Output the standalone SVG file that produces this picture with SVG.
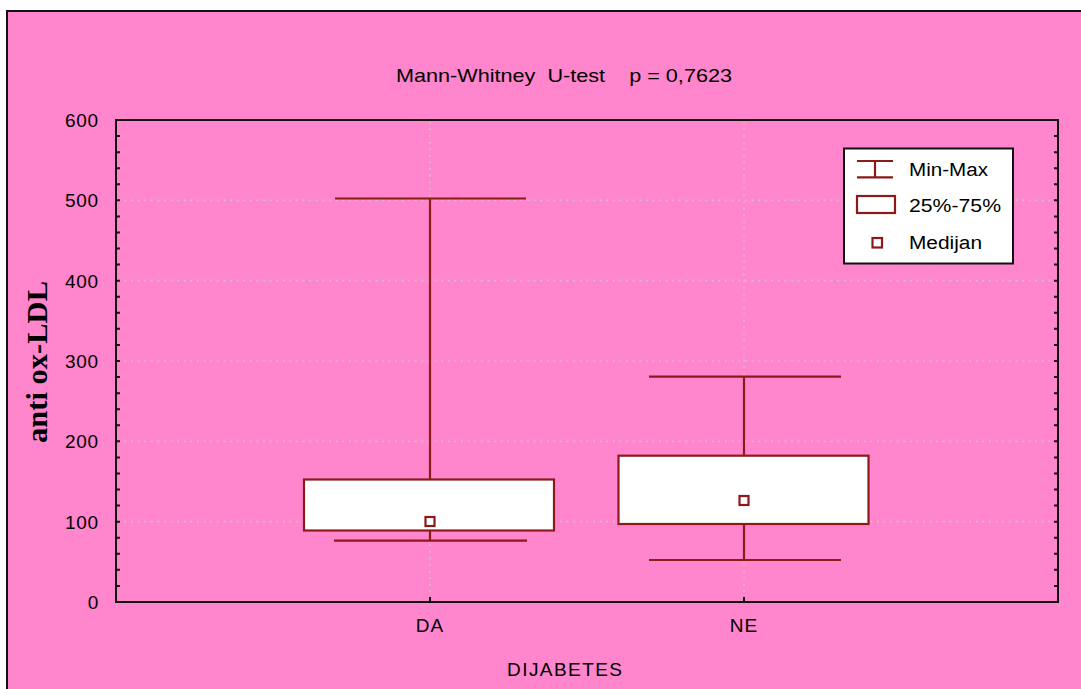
<svg xmlns="http://www.w3.org/2000/svg" width="1081" height="689" viewBox="0 0 1081 689">
<style>
  .t{font-family:"Liberation Sans",Arial,sans-serif;fill:#000;}
  .tick{font-size:19px;text-anchor:end;letter-spacing:0.8px;}
  .grid{stroke:#c8c8c8;stroke-width:1.6;stroke-dasharray:1.6 5;fill:none;}
  .axis{stroke:#111;stroke-width:2;fill:none;}
  .bx{stroke:#8c1a1a;stroke-width:2.2;fill:#fff;}
  .wh{stroke:#8c1a1a;stroke-width:2.2;fill:none;}
</style>
<rect x="0" y="0" width="1081" height="689" fill="#fff"/>
<rect x="7" y="11" width="1080" height="690" fill="#ff85cc" stroke="#111" stroke-width="2"/>

<g id="title">
  <text class="t" x="396" y="82" font-size="19" textLength="336" lengthAdjust="spacingAndGlyphs" xml:space="preserve">Mann-Whitney  U-test    p = 0,7623</text>
</g>

<g id="grid">
  <path class="grid" d="M118,521.67H1056M118,441.33H1056M118,361H1056M118,280.67H1056M118,200.33H1056"/>
  <path class="grid" d="M430,122V600M744,122V600"/>
</g>

<g id="axes">
  <rect class="axis" x="116" y="120" width="942" height="482"/>
  <path class="axis" d="M116,585.93h4M116,569.87h4M116,553.8h4M116,537.73h4M116,521.67h4M116,505.6h4M116,489.53h4M116,473.47h4M116,457.4h4M116,441.33h4M116,425.27h4M116,409.2h4M116,393.13h4M116,377.07h4M116,361h4M116,344.93h4M116,328.87h4M116,312.8h4M116,296.73h4M116,280.67h4M116,264.6h4M116,248.53h4M116,232.47h4M116,216.4h4M116,200.33h4M116,184.27h4M116,168.2h4M116,152.13h4M116,136.07h4"/>
  <path class="axis" d="M1058,585.93h-4M1058,569.87h-4M1058,553.8h-4M1058,537.73h-4M1058,521.67h-4M1058,505.6h-4M1058,489.53h-4M1058,473.47h-4M1058,457.4h-4M1058,441.33h-4M1058,425.27h-4M1058,409.2h-4M1058,393.13h-4M1058,377.07h-4M1058,361h-4M1058,344.93h-4M1058,328.87h-4M1058,312.8h-4M1058,296.73h-4M1058,280.67h-4M1058,264.6h-4M1058,248.53h-4M1058,232.47h-4M1058,216.4h-4M1058,200.33h-4M1058,184.27h-4M1058,168.2h-4M1058,152.13h-4M1058,136.07h-4"/>
  <path class="axis" d="M430,602v-5M744,602v-5"/>
  <text class="t tick" x="99" y="127">600</text>
  <text class="t tick" x="99" y="207">500</text>
  <text class="t tick" x="99" y="288">400</text>
  <text class="t tick" x="99" y="368">300</text>
  <text class="t tick" x="99" y="448">200</text>
  <text class="t tick" x="99" y="529">100</text>
  <text class="t tick" x="99" y="609">0</text>
  <text class="t" x="430" y="632" font-size="19" text-anchor="middle" letter-spacing="1">DA</text>
  <text class="t" x="744" y="632" font-size="19" text-anchor="middle" letter-spacing="1">NE</text>
</g>

<g id="ylabel">
  <text x="0" y="0" transform="translate(47,362) rotate(-90)" font-family="'Liberation Serif','Times New Roman',serif" font-weight="bold" font-size="29" text-anchor="middle" textLength="162" lengthAdjust="spacingAndGlyphs">anti ox-LDL</text>
</g>

<g id="xlabel">
  <text class="t" x="507" y="676" font-size="19" textLength="115" lengthAdjust="spacing">DIJABETES</text>
</g>

<g id="box-DA">
  <path class="wh" d="M335,198.5H526M430,198.5V479.5M430,530.5V540.7M334,540.7H527"/>
  <rect class="bx" x="304" y="479.5" width="250" height="51"/>
  <rect class="bx" x="425.5" y="517" width="9" height="9"/>
</g>

<g id="box-NE">
  <path class="wh" d="M649,376.7H841M744,376.7V455.7M744,524V560M649,560H841"/>
  <rect class="bx" x="618.5" y="455.7" width="250" height="68.3"/>
  <rect class="bx" x="739.5" y="496" width="9" height="9"/>
</g>

<g id="legend">
  <rect x="844" y="148.5" width="169" height="115" fill="#fff" stroke="#111" stroke-width="2"/>
  <path class="wh" d="M857,161H893M857,177.3H893M875,161V177.3"/>
  <rect class="bx" x="857" y="196" width="38" height="17"/>
  <rect class="bx" x="872.5" y="238" width="9.5" height="9.5"/>
  <text class="t" x="909" y="175.5" font-size="18" textLength="79" lengthAdjust="spacingAndGlyphs">Min-Max</text>
  <text class="t" x="909" y="211.5" font-size="18" textLength="92" lengthAdjust="spacingAndGlyphs">25%-75%</text>
  <text class="t" x="909" y="249" font-size="18" textLength="73" lengthAdjust="spacingAndGlyphs">Medijan</text>
</g>
</svg>
